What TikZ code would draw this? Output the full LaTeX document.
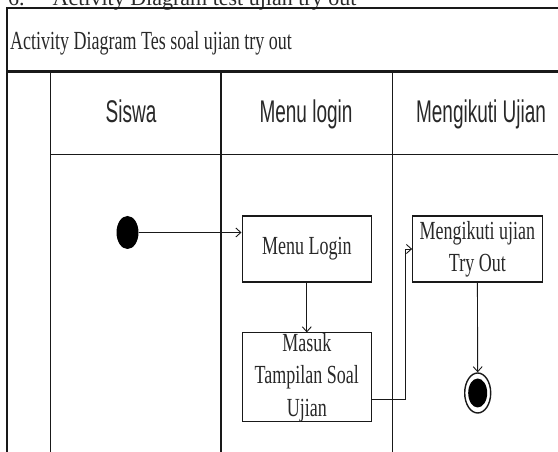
\documentclass[tikz,border=0pt]{standalone}
\usepackage{fontspec}
\setmainfont{Liberation Serif}
\setsansfont{Liberation Sans}
\usepackage{graphicx}
\definecolor{ink}{RGB}{25, 25, 25}
\definecolor{inktext}{RGB}{40, 40, 40}
\usetikzlibrary{shapes.geometric, arrows.meta, positioning, calc}
\newcommand{\tallt}[1]{\scalebox{1}[1.45]{#1}}
\newcommand{\tallh}[1]{\scalebox{1}[1.65]{#1}}
\tikzset{
    frameline/.style={draw=ink, line width=1.3pt},
    laneline/.style={draw=ink, line width=1.2pt},
    lanehead/.style={anchor=base, inner sep=0pt, font=\fontsize{19}{22}\selectfont\sffamily, text=inktext},
    actbox/.style={rectangle, draw=ink, line width=1.1pt, minimum width=129.5pt, minimum height=66pt, inner sep=0pt, align=center, font=\fontsize{18}{22.5}\selectfont, text=inktext},
    boxtext/.style={inner sep=0pt, font=\fontsize{18}{22.5}\selectfont, text=inktext},
    startnode/.style={ellipse, fill=black, minimum width=22pt, minimum height=33pt, inner sep=0pt},
    endring/.style={ellipse, draw=ink, line width=1.4pt, fill=white, minimum width=26pt, minimum height=40pt, inner sep=0pt},
    enddot/.style={ellipse, fill=black, minimum width=19pt, minimum height=29pt, inner sep=0pt},
    flow/.style={draw=ink, line width=0.9pt, -{Straight Barb[length=5pt, width=9pt]}}
}
\begin{document}
\begin{tikzpicture}[x=1pt, y=1pt]
    \useasboundingbox (0,0) rectangle (558,452);
    \clip (0,0) rectangle (558,452);
    % caption, cut off at the top
    \node[anchor=base west, inner sep=0pt, font=\fontsize{22}{26}\selectfont, text=inktext] (caption) at (8,446.5) {6.\hspace{28pt}Activity Diagram test ujian try out};
    % frame and swimlanes
    \draw[frameline] (7,-10) -- (7,444) -- (570,444);
    \draw[ink, line width=2.6pt] (7,380.5) -- (570,380.5);
    \draw[laneline] (50.5,297.5) -- (570,297.5);
    \foreach \lx in {50.5, 221, 392.5} {
        \draw[laneline] (\lx,380.5) -- (\lx,-10);
    }
    \node[anchor=base west, inner sep=0pt, font=\fontsize{18}{22}\selectfont, text=inktext] (title) at (10,402) {\tallt{Activity Diagram Tes soal ujian try out}};
    \node[lanehead] (hsiswa) at (131,329) {\tallh{Siswa}};
    \node[lanehead] (hlogin) at (306,329) {\tallh{Menu login}};
    \node[lanehead] (hujian) at (481,329) {\tallh{Mengikuti Ujian}};
    % activities
    \node[startnode] (start) at (127.5,219.5) {};
    \node[actbox] (login) at (306.8,203) {\tallt{Menu Login}};
    \node[actbox, minimum height=88.7pt, label={[boxtext]center:{\tallt{\begin{tabular}{@{}c@{}}Masuk\\Tampilan Soal\\Ujian\end{tabular}}}}] (masuk) at (306.8,74.7) {};
    \node[actbox] (ujian) at (477.4,203) {\tallt{\begin{tabular}{@{}c@{}}Mengikuti ujian\\Try Out\end{tabular}}};
    \node[endring] (finish) at (477.7,59) {};
    \node[enddot] (finishdot) at (finish.center) {};
    % control flow
    \draw[flow] (start) -- (start -| login.west);
    \draw[flow] (login.south) -- (masuk.north);
    \draw[flow] ([yshift=-21.7pt]masuk.east) -- ++(33.5pt,0) |- (ujian.west);
    \draw[flow] (ujian.south) -- (finish.north);
\end{tikzpicture}
\end{document}
